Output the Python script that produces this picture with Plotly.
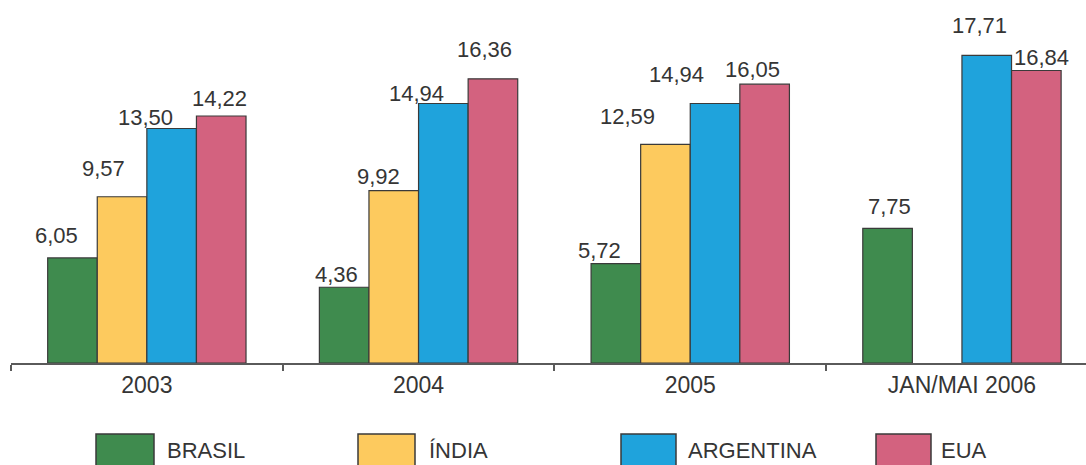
import plotly.graph_objects as go

# Categories and series values
periods = ["2003", "2004", "2005", "JAN/MAI 2006"]
series_names = ["BRASIL", "ÍNDIA", "ARGENTINA", "EUA"]
brasil = [6.05, 4.36, 5.72, 7.75]
india = [9.57, 9.92, 12.59, None]
argentina = [13.50, 14.94, 14.94, 17.71]
eua = [14.22, 16.36, 16.05, 16.84]

colors = ["#3f8b4e", "#fdca5e", "#1fa3dc", "#d3627f"]

# Value-label nudges (pixels): horizontal shift and height of label centre above bar top
label_dx = [[-16, -8, -16, 2], [-19, -15, -38, 0], [-26, -27, -39, -7], [-2, -8, -12, 5]]
label_dy = [[22, 13, 13, 22], [28, 14, 28, 0], [11, 10, 29, 30], [18, 29, 15, 13]]

W, H = 1086, 465
ML, MB = 11, 102
PLOT_W, PLOT_H = W - ML, H - MB
FONT = "Liberation Sans, Arial, sans-serif"
TXT = "#353535"

BARGAP = 0.27
all_series = [brasil, india, argentina, eua]

fig = go.Figure()
for name, vals, col in zip(series_names, all_series, colors):
    fig.add_trace(go.Bar(
        x=periods, y=vals, name=name,
        marker=dict(color=col, line=dict(color="#3a3a3a", width=1.2)),
        showlegend=False,
    ))

def fmt(v):
    return f"{v:.2f}".replace(".", ",")

annotations = []
n = len(all_series)
slot = (1 - BARGAP) / n
for i, vals in enumerate(all_series):
    for j, v in enumerate(vals):
        if v is None:
            continue
        annotations.append(dict(
            x=j + (i - (n - 1) / 2) * slot, y=v, xref="x", yref="y",
            text=fmt(v), showarrow=False,
            xanchor="center", yanchor="middle",
            xshift=label_dx[i][j], yshift=label_dy[i][j],
            font=dict(family=FONT, size=22, color=TXT),
        ))

# Legend drawn as large swatches with labels beneath the axis
def px_x(x):
    return (x - ML) / PLOT_W

def px_y(y):
    return (PLOT_H - y) / PLOT_H

legend_boxes = [(96, 154), (358, 415), (621, 676), (876, 931)]
legend_text_x = [165, 427, 686, 939]
shapes = []
for (x0, x1), tx, name, col in zip(legend_boxes, legend_text_x, series_names, colors):
    shapes.append(dict(
        type="rect", xref="paper", yref="paper",
        x0=px_x(x0), x1=px_x(x1), y0=px_y(434), y1=px_y(472),
        fillcolor=col, line=dict(color="#3a3a3a", width=1.5),
    ))
    annotations.append(dict(
        x=px_x(tx), y=px_y(465), xref="paper", yref="paper",
        text=name, showarrow=False, xanchor="left", yanchor="bottom",
        font=dict(family=FONT, size=22, color=TXT),
    ))

fig.update_layout(
    width=W, height=H,
    margin=dict(l=ML, r=0, t=0, b=MB, pad=0),
    paper_bgcolor="white", plot_bgcolor="white",
    barmode="group", bargap=BARGAP, bargroupgap=0,
    annotations=annotations, shapes=shapes,
    xaxis=dict(
        type="category", range=[-0.5, -0.5 + PLOT_W / 271.7],
        showline=True, linecolor="#5a5a5a", linewidth=2,
        ticks="outside", tickson="boundaries", ticklen=6,
        tickcolor="#5a5a5a", tickwidth=2,
        showgrid=False, zeroline=False,
        tickfont=dict(family=FONT, size=23, color=TXT),
    ),
    yaxis=dict(
        range=[0, PLOT_H / 17.37], visible=False,
        showgrid=False, zeroline=False,
    ),
)

fig.write_html("out.html")
